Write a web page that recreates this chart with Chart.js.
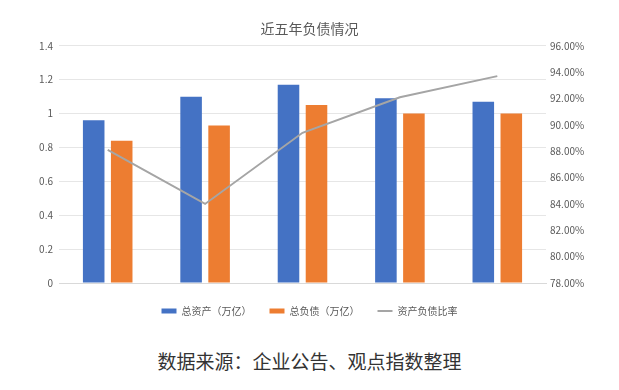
<!DOCTYPE html>
<html>
<head>
<meta charset="utf-8">
<script src="https://cdn.jsdelivr.net/npm/chart.js@4"></script>
<style>
    body { margin: 0; background: #fff; }
    #wrap { position: relative; width: 619px; height: 390px; }
    #chartBox { position: absolute; left: 0; top: 0; width: 619px; height: 326px; }
    #source {
        position: absolute; left: 0; top: 349px; width: 619px; height: 24px;
        text-align: center; font-family: "Noto Sans CJK SC", sans-serif;
        font-size: 19px; line-height: 24px; color: #333;
    }
</style>
</head>
<body>
<div id="wrap">
    <div id="chartBox"><canvas id="debtChart"></canvas></div>
    <div id="source">数据来源：企业公告、观点指数整理</div>
</div>
<script>
const years = ['2019年', '2020年', '2021年', '2022年', '2023年中期'];
const totalAssets = [0.96, 1.10, 1.17, 1.09, 1.07];
const totalDebts = [0.84, 0.93, 1.05, 1.00, 1.00];
const debtRatio = [0.881, 0.840, 0.894, 0.921, 0.937];
const seriesNames = ['总资产（万亿）', '总负债（万亿）', '资产负债比率'];

const FONT = '"Noto Sans CJK SC", sans-serif';
const TEXT = '#595959';

document.addEventListener('DOMContentLoaded', function () {
    const ctx = document.getElementById('debtChart').getContext('2d');

    new Chart(ctx, {
        data: {
            labels: years,
            datasets: [{
                type: 'bar',
                label: seriesNames[0],
                data: totalAssets,
                backgroundColor: '#4472C4',
                borderWidth: 0,
                pointStyle: 'rect',
                yAxisID: 'y',
                order: 1
            }, {
                type: 'bar',
                label: seriesNames[1],
                data: totalDebts,
                backgroundColor: '#ED7D31',
                borderWidth: 0,
                pointStyle: 'rect',
                yAxisID: 'y',
                order: 1
            }, {
                type: 'line',
                label: seriesNames[2],
                data: debtRatio,
                borderColor: '#A5A5A5',
                backgroundColor: '#A5A5A5',
                borderWidth: 2,
                pointRadius: 0,
                pointStyle: 'line',
                tension: 0,
                yAxisID: 'y1',
                order: 0
            }]
        },
        options: {
            responsive: true,
            maintainAspectRatio: false,
            animation: false,
            datasets: {
                bar: { categoryPercentage: 0.575, barPercentage: 0.77 }
            },
            plugins: {
                title: {
                    display: true,
                    text: '近五年负债情况',
                    color: TEXT,
                    font: { family: FONT, size: 14, weight: 'normal' },
                    padding: { top: 20, bottom: 9 }
                },
                legend: {
                    position: 'bottom',
                    labels: {
                        usePointStyle: true,
                        pointStyleWidth: 15,
                        boxHeight: 5,
                        padding: 18,
                        color: TEXT,
                        font: { family: FONT, size: 10 },
                        sort: (a, b) => a.datasetIndex - b.datasetIndex
                    }
                },
                tooltip: { enabled: false }
            },
            scales: {
                x: {
                    grid: { display: false, drawTicks: false },
                    border: { color: '#d9d9d9' },
                    ticks: { color: TEXT, padding: 5, font: { family: FONT, size: 9 } },
                    // labels overlap the legend's top padding, as in the original
                    afterFit: scale => { scale.height = 5; }
                },
                y: {
                    position: 'left',
                    min: 0,
                    max: 1.4,
                    grid: { color: '#e6e6e6', drawTicks: false },
                    border: { display: false },
                    ticks: {
                        stepSize: 0.2,
                        padding: 6,
                        color: TEXT,
                        font: { family: FONT, size: 10 },
                        callback: v => String(Math.round(v * 10) / 10)
                    },
                    afterFit: scale => { scale.width = 59; }
                },
                y1: {
                    position: 'right',
                    min: 0.78,
                    max: 0.96,
                    grid: { display: false, drawTicks: false },
                    border: { display: false },
                    ticks: {
                        stepSize: 0.02,
                        padding: 4,
                        color: TEXT,
                        font: { family: FONT, size: 10 },
                        callback: v => (v * 100).toFixed(2) + '%'
                    },
                    afterFit: scale => { scale.width = 73; }
                }
            }
        }
    });
});
</script>
</body>
</html>
